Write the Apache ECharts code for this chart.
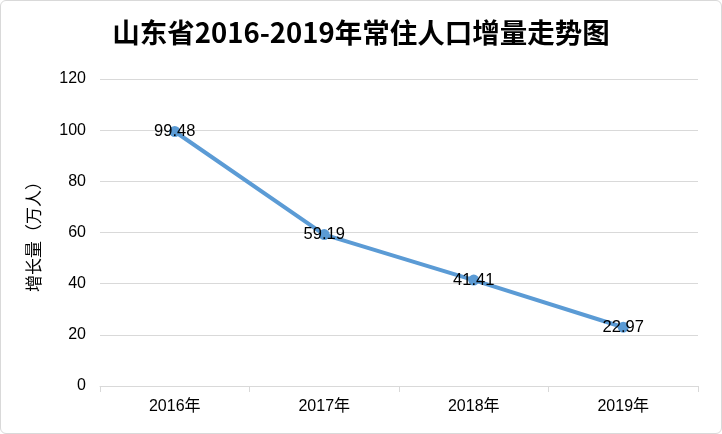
<!DOCTYPE html>
<html><head><meta charset="utf-8">
<script src="https://cdn.jsdelivr.net/npm/echarts@6/dist/echarts.min.js"></script>
<style>
html,body{margin:0;padding:0;background:#fff;}
#wrap{position:absolute;left:0;top:0;width:720px;height:432px;border:1px solid #d9d9d9;border-radius:6px;overflow:hidden;}
#c{width:720px;height:432px;}
</style></head>
<body><div id="wrap"><div id="c"></div></div>
<script>
const titleText = '山东省2016-2019年常住人口增量走势图';
const categories = ['2016年','2017年','2018年','2019年'];
const values = [99.48, 59.19, 41.41, 22.97];
const yAxisName = '增长量（万人）';

const chart = echarts.init(document.getElementById('c'));
chart.setOption({
  animation:false,
  title:{text:titleText,left:'center',top:13,textStyle:{fontFamily:'Noto Sans CJK SC',fontWeight:'bold',fontSize:27.5,color:'#000'}},
  grid:{left:99,right:23,top:78,bottom:47},
  xAxis:{type:'category',data:categories,boundaryGap:true,
    axisLine:{lineStyle:{color:'#d9d9d9',width:1}},
    axisTick:{show:true,length:6,lineStyle:{color:'#d9d9d9'}},
    axisLabel:{color:'#000',fontSize:16,margin:13,fontFamily:'Liberation Sans, Noto Sans CJK SC'}},
  yAxis:{type:'value',min:0,max:120,interval:20,
    name:yAxisName,nameLocation:'middle',nameGap:58,nameRotate:90,
    nameTextStyle:{color:'#000',fontSize:17,fontFamily:'Noto Sans CJK SC'},
    axisLine:{show:false},axisTick:{show:false},
    splitLine:{lineStyle:{color:'#d9d9d9',width:1}},
    axisLabel:{color:'#000',fontSize:16,margin:14,fontFamily:'Liberation Sans'}},
  series:[{type:'line',data:values,symbol:'circle',symbolSize:11,
    lineStyle:{color:'#5b9bd5',width:4},itemStyle:{color:'#5b9bd5'},
    label:{show:true,position:'inside',color:'#000',fontSize:16.5,fontFamily:'Liberation Sans'}}]
});
</script></body></html>
